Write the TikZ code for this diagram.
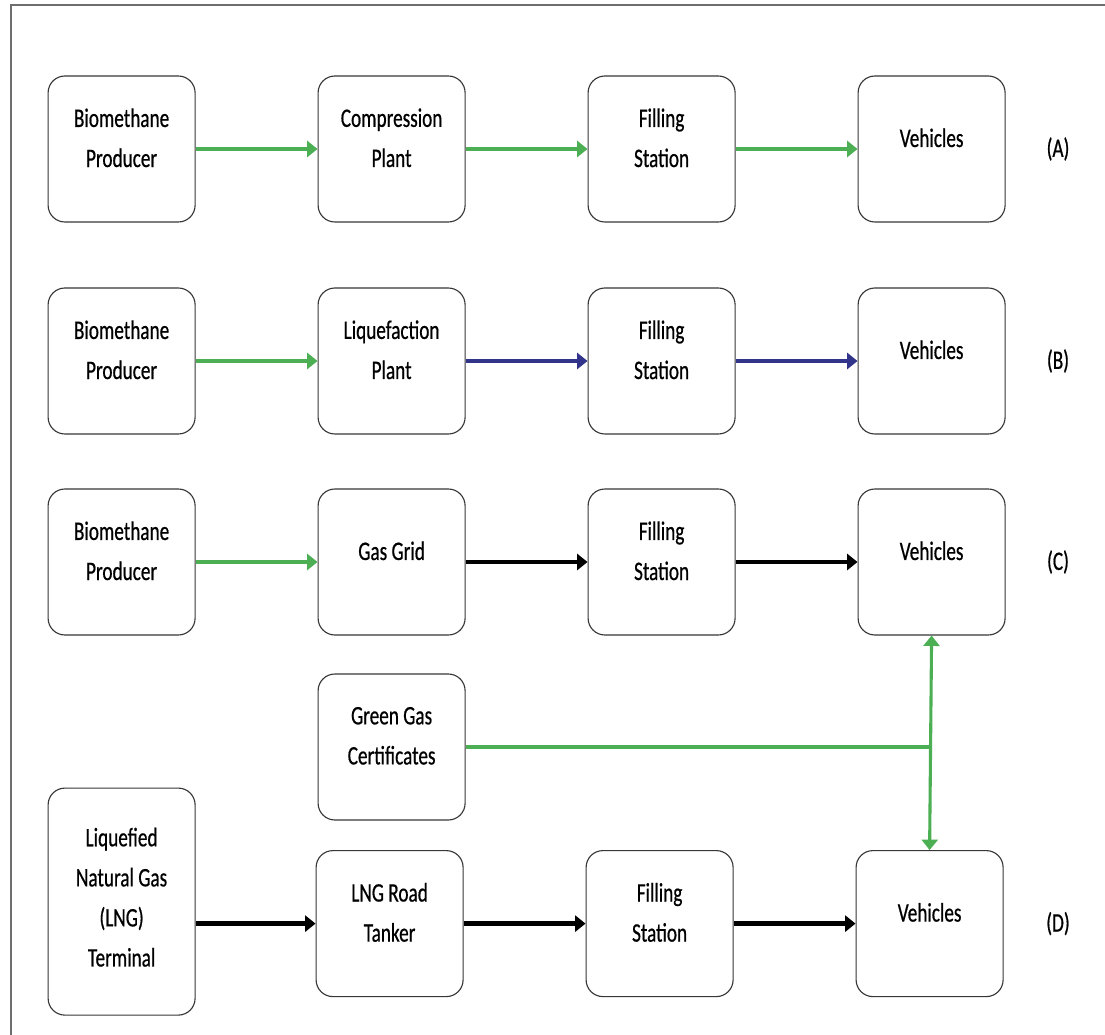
\documentclass[tikz,border=0pt]{standalone}
\usepackage{fontspec}
\usepackage{tikz}
\usetikzlibrary{arrows.meta}
\newfontfamily\boxfont[FakeStretch=0.72,FakeBold=0.6]{Carlito}
\definecolor{flowgreen}{RGB}{76,175,84}
\definecolor{flowblue}{RGB}{50,52,140}
\definecolor{framegray}{RGB}{110,110,110}
\definecolor{boxline}{RGB}{55,55,55}

\begin{document}
\begin{tikzpicture}[>={Triangle[length=2.6mm,width=4mm]},node distance=6.75cm,
    boxtext/.style={align=center, yshift=0.28cm,
      font=\boxfont\fontsize{19}{28.5}\selectfont},
    box/.style={draw=boxline, line width=0.8pt, rounded corners=0.42cm, fill=white,
      minimum width=3.675cm, minimum height=3.65cm,
      label={[boxtext]center:{#1}}},
    tag/.style={font=\boxfont\fontsize{19}{28.5}\selectfont},
    greenflow/.style={draw=flowgreen, line width=3.4pt},
    thingreen/.style={draw=flowgreen, line width=2.2pt},
    blueflow/.style={draw=flowblue, line width=2.6pt},
    blackflow/.style={draw=black, line width=3.4pt}]
        \fill[white] (0,0) rectangle (27.625,-25.875);
        \useasboundingbox (0,0) rectangle (27.625,-25.875);
        \draw[framegray, line width=0.8pt] (27.625,-0.125) -- (0.275,-0.125) -- (0.275,-25.875);

        % (A)
        \node[box={Biomethane\\Producer}] (a1) at (3.04,-3.725) {};
        \node[box={Compression\\Plant}] (a2) [right of = a1] {};
        \node[box={Filling\\Station}] (a3) [right of = a2] {};
        \node[box={Vehicles}] (a4) [right of = a3] {};
        \node[tag] (la) [right of = a4, node distance=3.16cm] {(A)};

        \path[->] (a1) edge[greenflow] (a2);
        \path[->] (a2) edge[greenflow] (a3);
        \path[->] (a3) edge[greenflow] (a4);

        % (B)
        \node[box={Biomethane\\Producer}] (b1) at (3.04,-9.025) {};
        \node[box={Liquefaction\\Plant}] (b2) [right of = b1] {};
        \node[box={Filling\\Station}] (b3) [right of = b2] {};
        \node[box={Vehicles}] (b4) [right of = b3] {};
        \node[tag] (lb) [right of = b4, node distance=3.16cm] {(B)};

        \path[->] (b1) edge[thingreen] (b2);
        \path[->] (b2) edge[blueflow] (b3);
        \path[->] (b3) edge[blueflow] (b4);

        % (C)
        \node[box={Biomethane\\Producer}] (c1) at (3.04,-14.05) {};
        \node[box={Gas Grid}] (c2) [right of = c1] {};
        \node[box={Filling\\Station}] (c3) [right of = c2] {};
        \node[box={Vehicles}] (c4) [right of = c3] {};
        \node[tag] (lc) [right of = c4, node distance=3.16cm] {(C)};

        \path[->] (c1) edge[greenflow] (c2);
        \path[->] (c2) edge[blackflow] (c3);
        \path[->] (c3) edge[blackflow] (c4);

        % certificates
        \node[box={Green Gas\\Certificates}] (cert) at (9.79,-18.675) {};

        % (D)
        \node[draw=boxline, line width=0.8pt, rounded corners=0.42cm, fill=white,
          minimum width=3.675cm, minimum height=5.675cm,
          label={[boxtext, yshift=-0.17cm]center:{Liquefied\\Natural Gas\\(LNG)\\Terminal}}] (d1) at (3.04,-22.54) {};
        \node[box={LNG Road\\Tanker}] (d2) at (9.74,-23.09) {};
        \node[box={Filling\\Station}] (d3) [right of = d2] {};
        \node[box={Vehicles}] (d4) [right of = d3] {};
        \node[tag] (ld) [right of = d4, node distance=3.21cm] {(D)};

        \path[->] (d1.east |- d2.west) edge[blackflow] (d2.west);
        \path[->] (d2) edge[blackflow] (d3);
        \path[->] (d3) edge[blackflow] (d4);

        \draw[greenflow] (cert.east) -- (c4.south |- cert.east);
        \path[<->] (c4.south) edge[thingreen] (d4.north);
      \end{tikzpicture}
\end{document}
